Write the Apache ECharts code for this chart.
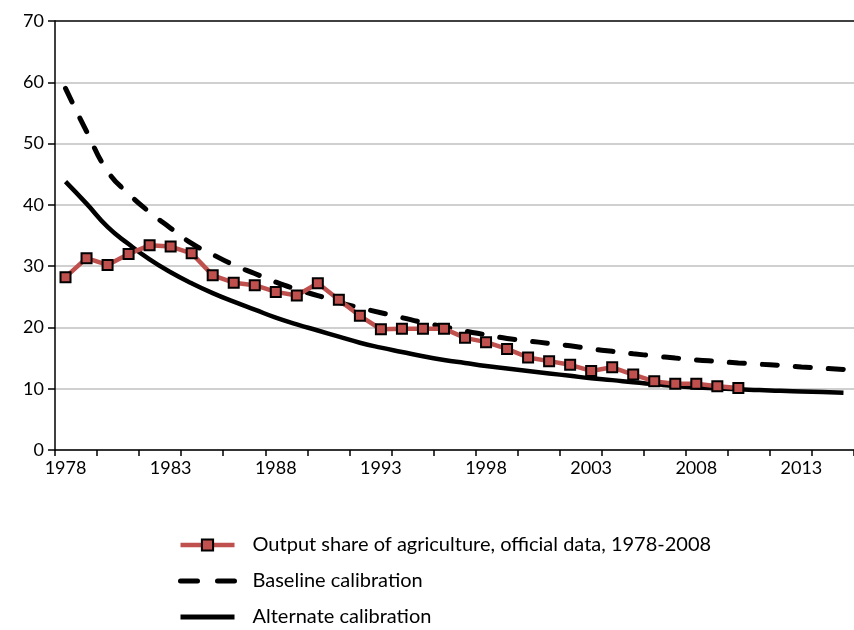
<!DOCTYPE html>
<html>
<head>
<meta charset="utf-8">
<script src="https://cdn.jsdelivr.net/npm/echarts@6/dist/echarts.min.js"></script>
<style>
  html, body { margin: 0; padding: 0; background: #fff; }
  #chart { width: 854px; height: 630px; }
</style>
</head>
<body>
<div id="chart"></div>
<script>
const years = []
for (let y = 1978; y <= 2015; y++) years.push(String(y))

// official output share of agriculture, 1978-2010
const official = [28.2, 31.3, 30.2, 32.0, 33.4, 33.2, 32.1, 28.5, 27.3, 26.9, 25.8, 25.2,
  27.2, 24.5, 21.9, 19.7, 19.8, 19.8, 19.8, 18.3, 17.6, 16.5, 15.1, 14.5, 13.9, 12.9,
  13.5, 12.3, 11.2, 10.8, 10.8, 10.4, 10.1]

const baseline = [59.0, 52.0, 45.5, 41.8, 38.8, 36.2, 33.7, 31.9, 30.2, 28.8, 27.4, 26.2,
  25.2, 24.1, 23.2, 22.4, 21.6, 20.8, 20.1, 19.4, 18.8, 18.2, 17.8, 17.4, 17.0, 16.5,
  16.1, 15.7, 15.35, 15.0, 14.7, 14.45, 14.2, 14.0, 13.8, 13.55, 13.35, 13.15]

const alternate = [43.8, 40.2, 36.4, 33.6, 31.1, 29.0, 27.2, 25.6, 24.2, 22.9, 21.6, 20.5,
  19.5, 18.5, 17.5, 16.7, 16.0, 15.3, 14.7, 14.2, 13.7, 13.3, 12.9, 12.5, 12.1, 11.7,
  11.4, 11.05, 10.75, 10.45, 10.2, 10.05, 9.9, 9.8, 9.65, 9.55, 9.45, 9.35]

const names = [
  'Output share of agriculture, official data, 1978-2008',
  'Baseline calibration',
  'Alternate calibration'
]

const font = 'Lato, "Open Sans", sans-serif'

const chart = echarts.init(document.getElementById('chart'))
chart.setOption({
  animation: false,
  textStyle: { fontFamily: font },
  grid: { left: 55, top: 21, bottom: 180, right: -10 },
  legend: {
    orient: 'vertical',
    left: 178,
    top: 535,
    padding: 0,
    itemWidth: 54,
    itemHeight: 14,
    itemGap: 16,
    textStyle: { color: '#000', fontSize: 20, fontFamily: font, padding: [0, 0, 0, 13] },
    data: [
      { name: names[0], lineStyle: { width: 4.5 } },
      { name: names[1], itemStyle: { opacity: 0 }, lineStyle: { width: 5, type: [17, 20], cap: 'round' } },
      { name: names[2], itemStyle: { opacity: 0 }, lineStyle: { width: 5 } }
    ]
  },
  xAxis: {
    type: 'category',
    data: years,
    boundaryGap: true,
    axisLine: { lineStyle: { color: '#000', width: 1.5 } },
    axisTick: { show: true, interval: 1, length: 6, lineStyle: { color: '#000', width: 1.5 } },
    axisLabel: { interval: 4, color: '#000', fontSize: 18, margin: 9 },
    splitLine: { show: false }
  },
  yAxis: {
    type: 'value',
    min: 0, max: 70, interval: 10,
    axisLine: { show: true, lineStyle: { color: '#000', width: 1.5 } },
    axisTick: { show: true, length: 7, lineStyle: { color: '#000', width: 1.5 } },
    axisLabel: { color: '#000', fontSize: 18, margin: 11 },
    splitLine: {
      lineStyle: {
        color: ['#c0c0c0', '#c0c0c0', '#c0c0c0', '#c0c0c0', '#c0c0c0', '#c0c0c0', '#c0c0c0', '#000'],
        width: 1.5
      }
    }
  },
  series: [
    {
      name: names[0],
      type: 'line',
      data: official,
      z: 3,
      symbol: 'rect',
      symbolSize: 10,
      lineStyle: { color: '#c0504d', width: 4.5 },
      itemStyle: { color: '#c0504d', borderColor: '#000', borderWidth: 2 }
    },
    {
      name: names[1],
      type: 'line',
      data: baseline,
      z: 2,
      showSymbol: false,
      smooth: true,
      lineStyle: { color: '#000', width: 5, type: [15, 18], cap: 'round' },
      itemStyle: { color: '#000' }
    },
    {
      name: names[2],
      type: 'line',
      data: alternate,
      z: 2,
      showSymbol: false,
      smooth: true,
      lineStyle: { color: '#000', width: 4.5 },
      itemStyle: { color: '#000' }
    }
  ]
})
</script>
</body>
</html>
